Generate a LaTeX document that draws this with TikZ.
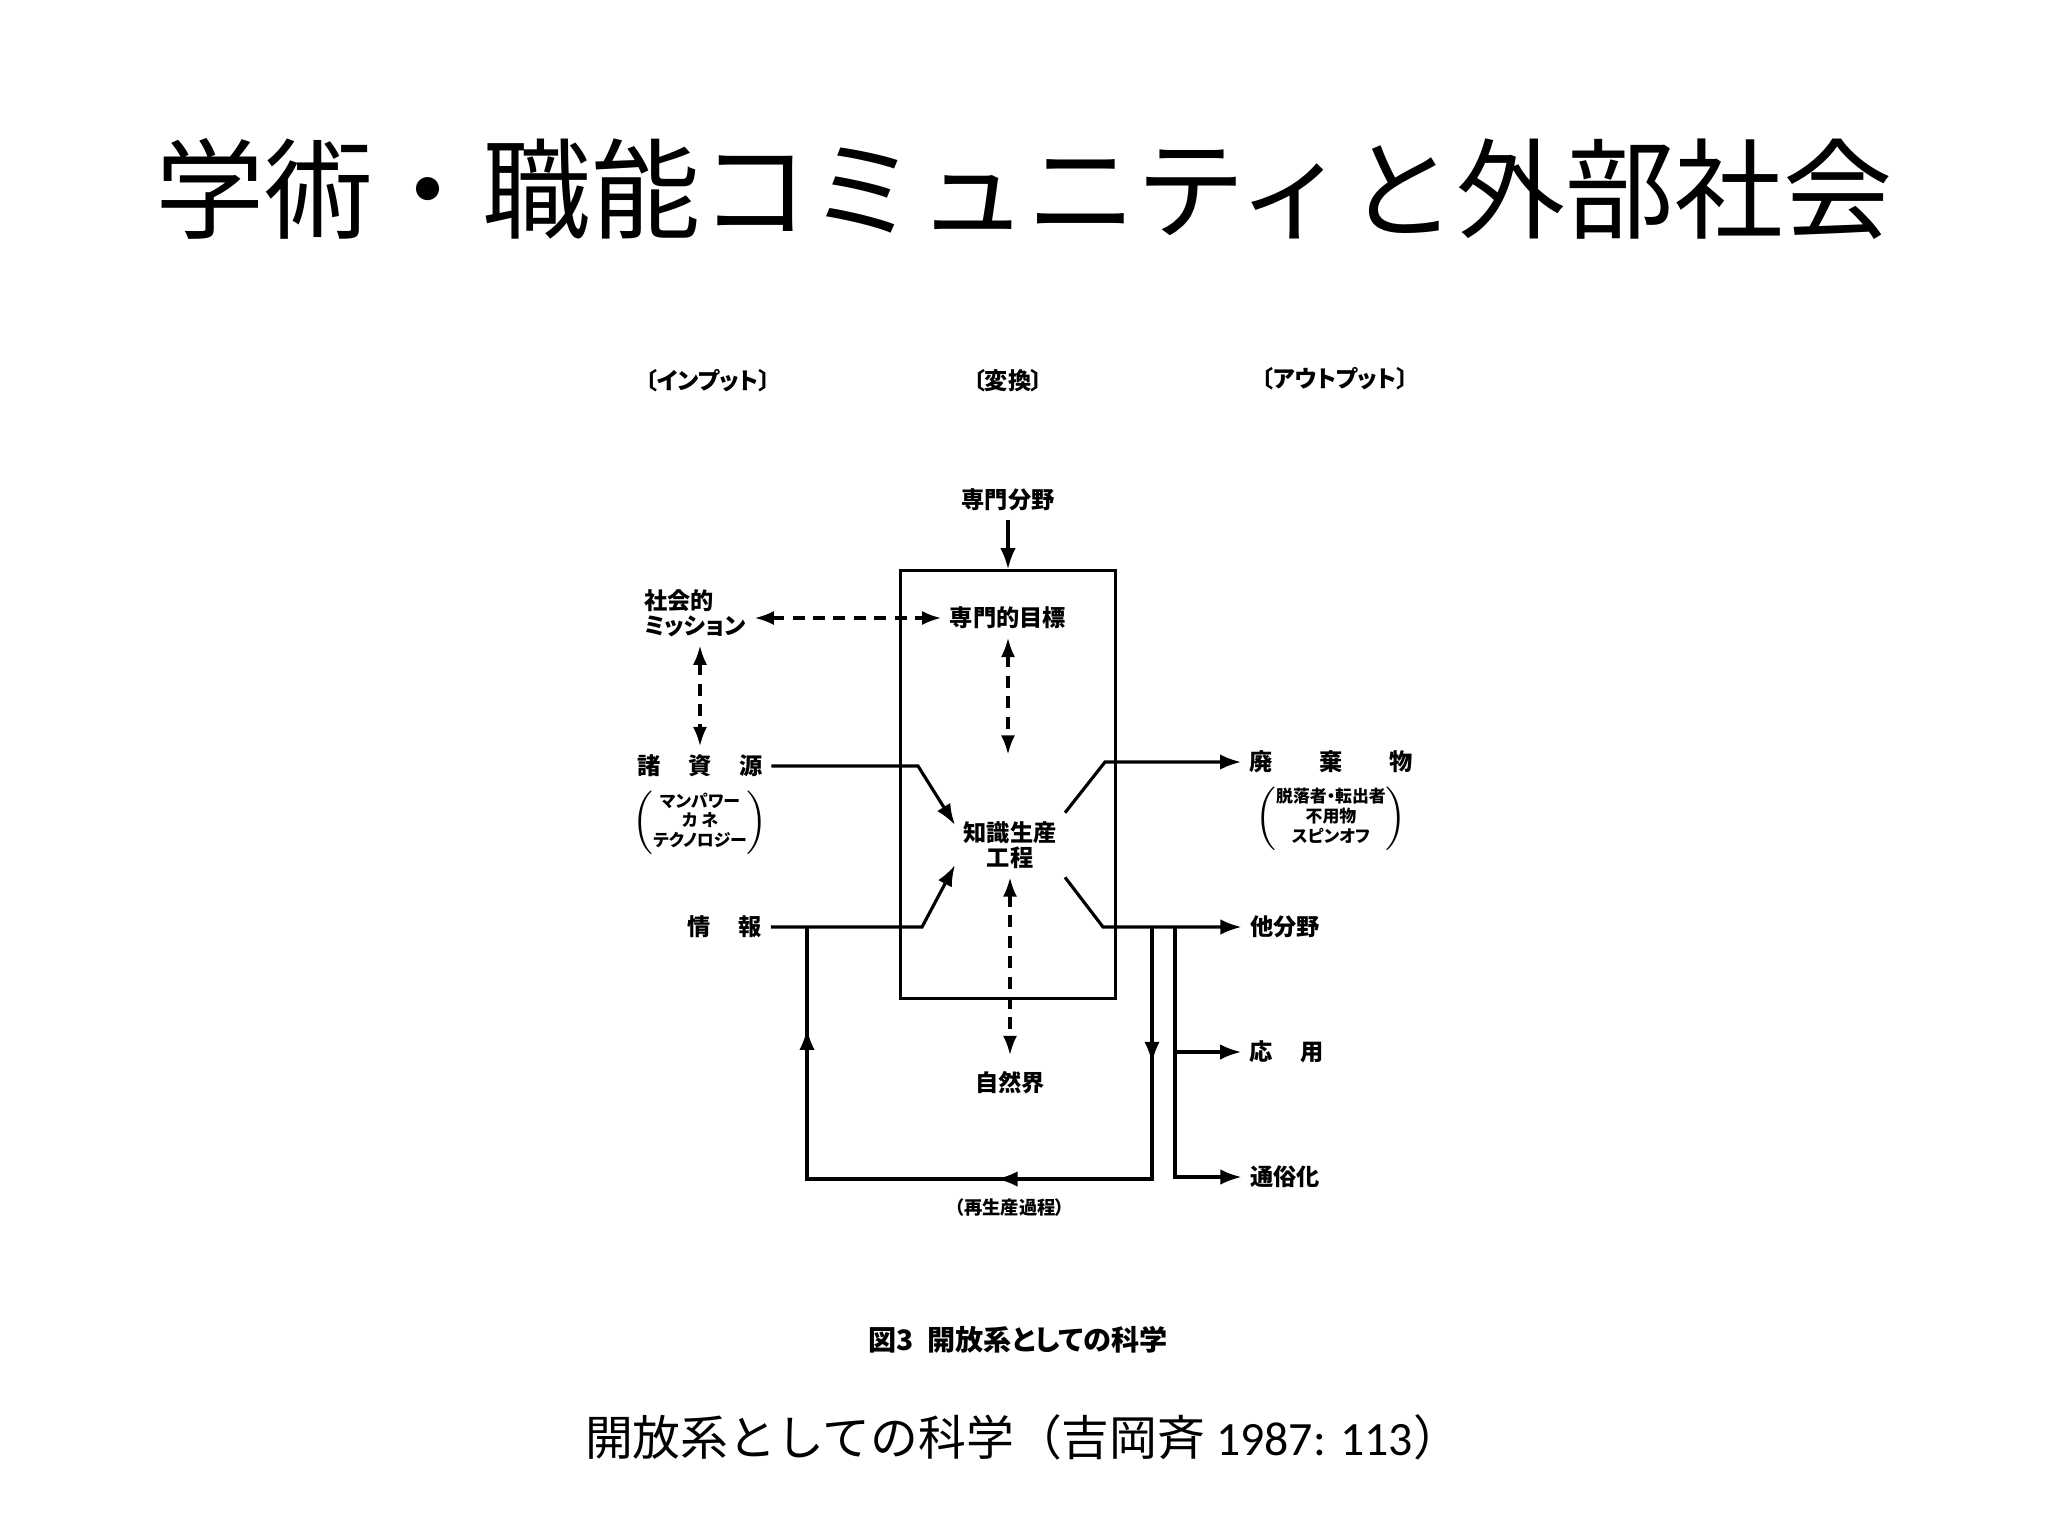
\documentclass[tikz,border=0pt]{standalone}
\usepackage{fontspec}
\setmainfont{Noto Sans CJK JP}
\newfontfamily\diafont{Noto Sans CJK JP}[RawFeature=+palt]
\newfontfamily\latfont{Carlito}
\usetikzlibrary{arrows.meta,positioning,decorations.markings}
\tikzset{
  every picture/.style={
    line width=0.9pt
  },
  flow/.style={-{Latex[length=6pt,width=4.4pt]}},
  twoway/.style={{Latex[length=5.5pt,width=4pt]}-{Latex[length=5.5pt,width=4pt]},
    dash pattern=on 3.4pt off 2.4pt},
  lbl/.style={font=\diafont\fontsize{6.6}{7.2}\selectfont\bfseries, align=center, inner sep=2pt},
  note/.style={font=\diafont\fontsize{4.8}{5.4}\selectfont\bfseries, inner sep=0pt},
  head/.style={font=\diafont\fontsize{6.6}{7}\selectfont\bfseries},
  % arrowheads half way along the feedback loop
  loopflow/.style={decoration={markings,
      mark=at position 0.16 with {\arrow{Latex[length=6pt,width=4.4pt]}},
      mark=at position 0.48 with {\arrow{Latex[length=6pt,width=4.4pt]}},
      mark=at position 0.88 with {\arrow{Latex[length=6pt,width=4.4pt]}}},
    postaction=decorate}
}
\begin{document}
\begin{tikzpicture}[x=0.01cm,y=-0.01cm]
  \useasboundingbox (0,0) rectangle (2048,1536);
  \node[font=\fontsize{31}{36}\selectfont] (title) at (1024,189) {学術・職能コミュニティと外部社会};

  \node[head] (hin) at (708,381) {〔インプット〕};
  \node[head] (hconv) at (1008,381) {〔変換〕};
  \node[head] (hout) at (1335,379) {〔アウトプット〕};

  \node[draw, minimum width=2.15cm, minimum height=4.27cm, inner sep=0pt] (sys) at (1008,784.5) {};
  \node[lbl] (field) at (1008,500) {専門分野};
  \draw[flow] (field) -- (sys.north);

  \node[lbl] (goal) at (1008,618) {専門的目標};
  \node[lbl, align=left] (mission) at (695,613) {社会的\\ミッション};
  \draw[twoway] (mission.east |- goal.west) -- (goal.west);

  \node[lbl] (res) at (700,766) {諸\hspace{1.2em}資\hspace{1.2em}源};
  \node[note, below=1pt of res] (resnote) {$\left(\begin{tabular}{@{}c@{}}マンパワー\\カ ネ\\テクノロジー\end{tabular}\right)$};
  \draw[twoway] (res.north |- mission.south) -- (res.north);

  \node[lbl] (kp) at (1010,845) {知識生産\\工程};
  \draw[twoway, shorten >=0.58cm] (goal.south) -- (goal.south |- kp.north);
  \node[lbl] (nature) at (1010,1083) {自然界};
  \draw[twoway, shorten >=0.08cm] (kp.south) -- (kp.south |- nature.north);

  \node[lbl] (info) at (725,927) {情\hspace{1.2em}報};
  \coordinate (resbend) at (918,766);
  \draw[flow] (res.east) -- (resbend) -- (kp.160);
  \coordinate (infobend) at (922,927);
  \draw[flow] (info.east) -- (infobend) -- (kp.200);

  \node[lbl] (waste) at (1331,762) {廃\hspace{2em}棄\hspace{2em}物};
  \node[note, below=1pt of waste] (wastenote) {$\left(\begin{tabular}{@{}c@{}}脱落者・転出者\\不用物\\スピンオフ\end{tabular}\right)$};
  \coordinate (wastebend) at (1105,762);
  \draw[flow] (kp.north east) -- (wastebend) -- (waste.west);

  \node[lbl] (other) at (1285,927) {他分野};
  \coordinate (otherbend) at (1103,927);
  \draw[flow] (kp.south east) -- (otherbend) -- (other.west);

  \node[lbl] (appl) at (1287,1052) {応\hspace{1.2em}用};
  \node[lbl] (pop) at (1285,1177) {通俗化};
  \coordinate (split1) at (1152,927);
  \coordinate (split2) at (1175,927);
  \draw[flow] (split2) |- (pop.west);
  \draw[flow] (split2 |- appl.west) -- (appl.west);

  \coordinate (loopR) at (1152,1179);
  \coordinate (loopL) at (807,1179);
  \coordinate (loopin) at (807,927);
  \draw[loopflow] (split1) -- (loopR) -- (loopL) -- (loopin);
  \node[note, font=\diafont\fontsize{5.2}{6}\selectfont\bfseries] (repro) at (1010,1208) {（再生産過程）};

  \node[font=\diafont\fontsize{8}{10}\selectfont\bfseries] (fig) at (1018,1340) {図3\hspace{0.5em}開放系としての科学};
  \node[font=\fontsize{13.6}{15}\selectfont] (cap) at (1023,1437) {開放系としての科学（吉岡斉 {\latfont 1987: 113}）};
\end{tikzpicture}
\end{document}
